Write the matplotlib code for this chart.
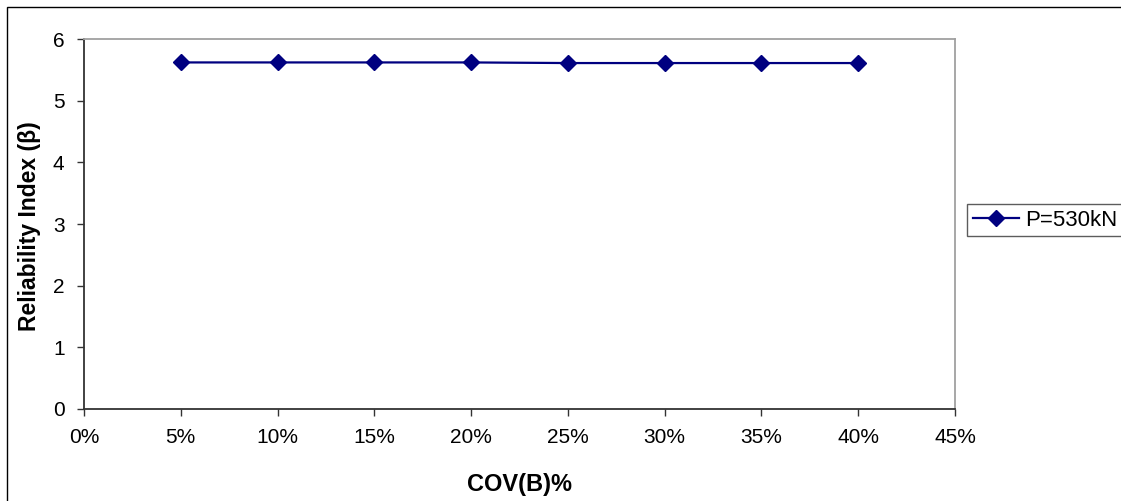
import matplotlib
matplotlib.use("Agg")
import matplotlib.pyplot as plt
from matplotlib.patches import Rectangle
from matplotlib.ticker import PercentFormatter, MultipleLocator

plt.rcParams['font.family'] = ['Liberation Sans', 'DejaVu Sans']

# Coefficient of variation of B and the resulting reliability index
cov_b = [0.05, 0.10, 0.15, 0.20, 0.25, 0.30, 0.35, 0.40]
beta = [5.62, 5.62, 5.62, 5.62, 5.61, 5.61, 5.61, 5.61]
series_label = "P=530kN"
x_label = "COV(B)%"
y_label = "Reliability Index (\u03b2)"

W, H = 1121, 501
fig = plt.figure(figsize=(W / 100, H / 100), dpi=100)

# outer chart frame
frame = Rectangle((7 / W, -0.05), 1.2, 1 - 7 / H + 0.05, transform=fig.transFigure,
                  fill=False, edgecolor='black', linewidth=1.0, clip_on=False)
fig.patches.append(frame)

left, right, top, bottom = 84, 955, 39, 409
ax = fig.add_axes([left / W, 1 - bottom / H, (right - left) / W, (bottom - top) / H])

ax.plot(cov_b, beta, color='#000080', linewidth=1.6, marker='D', markersize=8,
        markerfacecolor='#000080', markeredgecolor='#000080', label=series_label)

ax.set_xlim(0, 0.45)
ax.set_ylim(0, 6)
ax.xaxis.set_major_locator(MultipleLocator(0.05))
ax.xaxis.set_major_formatter(PercentFormatter(xmax=1, decimals=0))
ax.yaxis.set_major_locator(MultipleLocator(1))

for side in ('top', 'right'):
    ax.spines[side].set_color('#a0a0a0')
    ax.spines[side].set_linewidth(1.3)
for side in ('left', 'bottom'):
    ax.spines[side].set_color('#333333')
    ax.spines[side].set_linewidth(1.3)

ax.tick_params(axis='both', direction='out', length=5, width=1, color='#333333',
               labelsize=15)
ax.tick_params(axis='x', pad=9)
ax.tick_params(axis='y', pad=9)

fig.text((left + right) / 2 / W, 1 - 485 / H, x_label, ha='center', va='center',
         fontsize=17, fontweight='bold')
fig.text(30 / W, 1 - 226 / H, y_label, ha='center', va='center', rotation=90,
         fontsize=16.5, fontweight='bold')

leg = fig.legend(loc='upper left', bbox_to_anchor=(967 / W, 1 - 204 / H),
                 bbox_transform=fig.transFigure, fontsize=16, frameon=True,
                 fancybox=False, handlelength=2.1, handletextpad=0.25,
                 borderpad=0.25, borderaxespad=0)
leg.get_frame().set_edgecolor('#333333')
leg.get_frame().set_linewidth(1.0)

fig.savefig('out.png', dpi=100)
